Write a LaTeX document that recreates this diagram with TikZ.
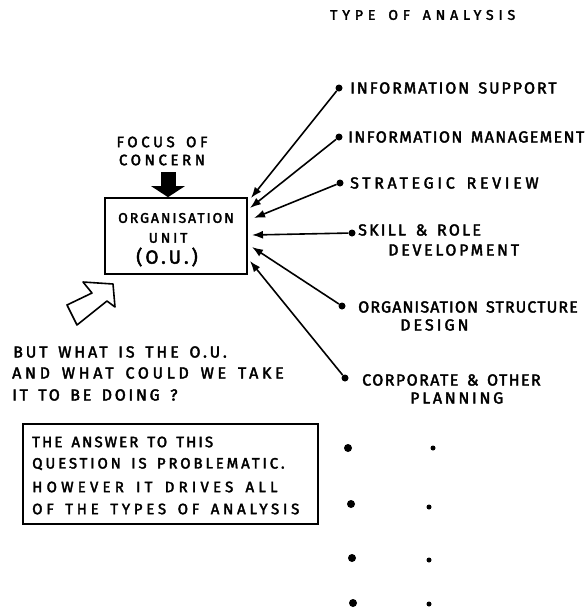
\documentclass[tikz,border=0pt]{standalone}
\usepackage{fontspec}
\newfontfamily\handfont[FakeBold=2.5, WordSpace=1.5]{Fira Sans}
\usetikzlibrary{arrows.meta}

\begin{document}
\begin{tikzpicture}[x=1pt,y=-1pt,
  hw/.style={font={\handfont\fontsize{16}{18}\selectfont\addfontfeature{LetterSpace=#1}}},
  lbl/.style={hw=#1, anchor=west, inner sep=0pt},
  anstxt/.style={anchor=west, inner sep=0pt,
    font={\handfont\fontsize{15}{17}\selectfont\addfontfeature{LetterSpace=#1}}},
  dot/.style={circle, fill=black, inner sep=0pt, minimum size=7pt},
  bigdot/.style={circle, fill=black, inner sep=0pt, minimum size=8pt},
  smalldot/.style={circle, fill=black, inner sep=0pt, minimum size=5pt},
  conn/.style={line width=1.6pt, -{Latex[length=11pt,width=8pt]}},
  framebox/.style={draw, line width=1.6pt, inner sep=0pt},
  bigarrow/.style={line width=15pt, -{Triangle[length=11pt,width=33pt]}},
]
\useasboundingbox (0,0) rectangle (586,608);

% heading of the list
\node[anchor=west, inner sep=0pt,
  font={\handfont\fontsize{14}{16}\selectfont\addfontfeature{LetterSpace=35}}] (title) at (330,15) {TYPE OF ANALYSIS};

% the organisation unit and what is focused on it
\node[framebox, minimum width=142pt, minimum height=76pt] (ou) at (176,236) {};
\node[inner sep=0pt, font={\handfont\fontsize{14}{16}\selectfont\addfontfeature{LetterSpace=14}}] (ou1) at (176,218) {ORGANISATION};
\node[inner sep=0pt, font={\handfont\fontsize{14}{16}\selectfont\addfontfeature{LetterSpace=20}}] (ou2) at (168,238) {UNIT};
\node[inner sep=0pt, font={\handfont\fontsize{19}{21}\selectfont\addfontfeature{LetterSpace=16}}] (ou3) at (167,257) {(O.U.)};

\node[inner sep=0pt, align=center,
  font={\handfont\fontsize{15}{18}\selectfont\addfontfeature{LetterSpace=24}}] (focus) at (162,151) {FOCUS OF\\CONCERN};
\coordinate (fa) at (168,172);
\draw[bigarrow] (fa) -- (fa |- ou.north);

% hollow arrow pointing at the unit
\draw[line width=1.6pt, line join=round]
  (67,305) -- (92,293) -- (83,282) -- (113,284) -- (115,307) -- (107,301) -- (77,325) -- cycle;

% the question
\node[lbl=18] (q1) at (13,352) {BUT WHAT IS THE O.U.};
\node[lbl=23] (q2) at (12,373) {AND WHAT COULD WE TAKE};
\node[lbl=17] (q3) at (12,395) {IT TO BE DOING ?};

% the answer
\node[framebox, anchor=north west, minimum width=295pt, minimum height=100pt] (ans) at (22,423) {};
\node[anstxt=14] (a1) at (32,442) {THE ANSWER TO THIS};
\node[anstxt=19] (a2) at (32,464) {QUESTION IS PROBLEMATIC.};
\node[anstxt=28] (a3) at (32,487) {HOWEVER IT DRIVES ALL};
\node[anstxt=25] (a4) at (32,509) {OF THE TYPES OF ANALYSIS};

% types of analysis
\node[dot] (d1) at (339,88) {};
\node[dot] (d2) at (339,137) {};
\node[dot] (d3) at (340,183) {};
\node[dot] (d4) at (352,233) {};
\node[dot] (d5) at (342,306) {};
\node[dot] (d6) at (345,378) {};

\node[lbl=12] (l1) at (350,88) {INFORMATION SUPPORT};
\node[lbl=9] (l2) at (348,137) {INFORMATION MANAGEMENT};
\node[lbl=23] (l3) at (350,183) {STRATEGIC REVIEW};
\node[lbl=14] (l4a) at (358,230) {SKILL \& ROLE};
\node[lbl=17] (l4b) at (388,250) {DEVELOPMENT};
\node[lbl=7] (l5a) at (358,307) {ORGANISATION STRUCTURE};
\node[lbl=19] (l5b) at (400,325) {DESIGN};
\node[lbl=9] (l6a) at (362,380) {CORPORATE \& OTHER};
\node[lbl=17] (l6b) at (410,398) {PLANNING};

\coordinate (t1) at (251,198);
\coordinate (t2) at (250,208);
\coordinate (t3) at (254,218);
\coordinate (t4) at (252,235);
\coordinate (t5) at (252,247);
\coordinate (t6) at (250,261);

\draw[conn] (d1) -- (t1);
\draw[conn] (d2) -- (t2);
\draw[conn] (d3) -- (t3);
\draw[conn] (d4) -- (t4);
\draw[conn] (d5) -- (t5);
\draw[conn] (d6) -- (t6);

% further types, left open
\node[bigdot] (e1) at (348,448) {};
\node[bigdot] (e2) at (351,504) {};
\node[bigdot] (e3) at (352,558) {};
\node[bigdot] (e4) at (353,603) {};
\node[smalldot] (f1) at (433,448) {};
\node[smalldot] (f2) at (429,507) {};
\node[smalldot] (f3) at (429,560) {};
\node[smalldot] (f4) at (429,604) {};
\end{tikzpicture}
\end{document}
